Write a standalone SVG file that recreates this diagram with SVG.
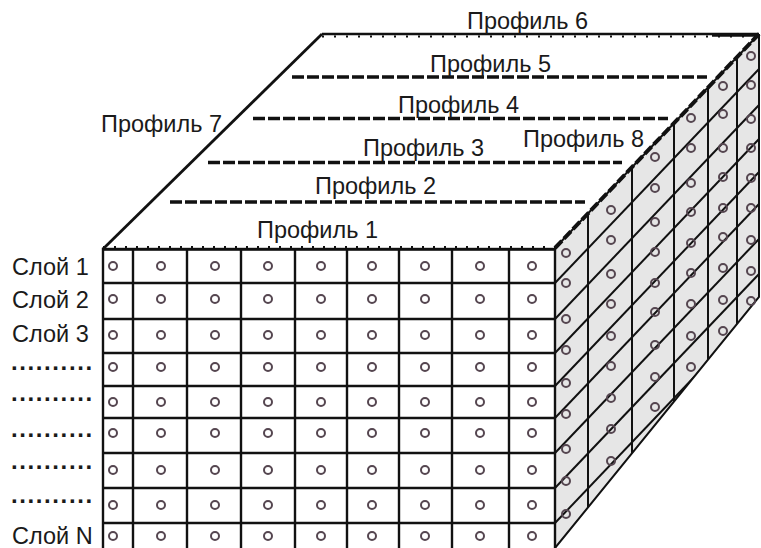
<svg xmlns="http://www.w3.org/2000/svg" xmlns:xlink="http://www.w3.org/1999/xlink" width="761" height="548" viewBox="0 0 761 548">
<style>
.t{font-family:"Liberation Sans",Arial,sans-serif;font-size:23.5px;fill:#1a1a1a}
.d{font-family:"Liberation Sans",Arial,sans-serif;font-size:24px;font-weight:bold;fill:#1a1a1a;letter-spacing:1.6px}
.g{stroke:#111;stroke-width:2.4;fill:none}
.gs{stroke:#111;stroke-width:2;fill:none}
.o{fill:none;stroke:#554650;stroke-width:2}
.pd{stroke:#111;stroke-width:3.6;stroke-dasharray:12 3;fill:none}
</style>
<defs>
<circle id="o" class="o" r="4"/>
<g id="frow">
<use href="#o" x="113"/><use href="#o" x="161"/><use href="#o" x="215"/><use href="#o" x="268"/><use href="#o" x="321"/><use href="#o" x="372"/><use href="#o" x="425"/><use href="#o" x="480"/><use href="#o" x="532"/>
</g>
<clipPath id="sideclip"><polygon points="555,248 759,34 759,297 555,548"/></clipPath>
</defs>
<rect width="761" height="548" fill="#fff"/>

<g id="side-face">
<polygon points="555,248 759,34 759,297 555,548" fill="#e6e6e6"/>
<g clip-path="url(#sideclip)" class="gs">
<line x1="555" y1="283" x2="759" y2="69"/>
<line x1="555" y1="319" x2="759" y2="105"/>
<line x1="555" y1="353" x2="759" y2="139"/>
<line x1="555" y1="386" x2="759" y2="172"/>
<line x1="555" y1="418" x2="759" y2="204"/>
<line x1="555" y1="453" x2="759" y2="239"/>
<line x1="555" y1="488" x2="759" y2="274"/>
<line x1="555" y1="523" x2="759" y2="309"/>
<line x1="588" y1="0" x2="588" y2="548"/>
<line x1="632" y1="0" x2="632" y2="548"/>
<line x1="674" y1="0" x2="674" y2="548"/>
<line x1="708" y1="0" x2="708" y2="548"/>
<line x1="737" y1="0" x2="737" y2="548"/>
</g>
<polyline class="gs" points="759,34 759,297 555,548"/>
<g>
<use href="#o" x="566" y="253"/><use href="#o" x="566" y="283"/><use href="#o" x="566" y="319"/><use href="#o" x="566" y="350"/><use href="#o" x="566" y="383"/><use href="#o" x="566" y="414"/><use href="#o" x="566" y="449"/><use href="#o" x="566" y="481"/><use href="#o" x="566" y="514"/>
<use href="#o" x="611" y="210"/><use href="#o" x="611" y="240"/><use href="#o" x="611" y="274"/><use href="#o" x="611" y="304"/><use href="#o" x="611" y="336"/><use href="#o" x="611" y="366"/><use href="#o" x="611" y="398"/><use href="#o" x="611" y="429"/><use href="#o" x="611" y="461"/>
<use href="#o" x="655" y="157"/><use href="#o" x="655" y="188"/><use href="#o" x="655" y="222"/><use href="#o" x="655" y="252"/><use href="#o" x="655" y="283"/><use href="#o" x="655" y="312"/><use href="#o" x="655" y="345"/><use href="#o" x="655" y="377"/><use href="#o" x="655" y="407"/>
<use href="#o" x="691" y="118"/><use href="#o" x="691" y="148"/><use href="#o" x="691" y="183"/><use href="#o" x="691" y="212"/><use href="#o" x="691" y="243"/><use href="#o" x="691" y="273"/><use href="#o" x="691" y="304"/><use href="#o" x="691" y="336"/><use href="#o" x="691" y="367"/>
<use href="#o" x="723" y="86"/><use href="#o" x="723" y="114"/><use href="#o" x="723" y="148"/><use href="#o" x="723" y="177"/><use href="#o" x="723" y="208"/><use href="#o" x="723" y="237"/><use href="#o" x="723" y="268"/><use href="#o" x="723" y="300"/><use href="#o" x="723" y="331"/>
<use href="#o" x="751" y="56"/><use href="#o" x="751" y="85"/><use href="#o" x="751" y="119"/><use href="#o" x="751" y="148"/><use href="#o" x="751" y="178"/><use href="#o" x="751" y="208"/><use href="#o" x="751" y="240"/><use href="#o" x="751" y="271"/><use href="#o" x="751" y="301"/>
</g>
</g>

<g id="front-face">
<rect x="103" y="249" width="452" height="305" class="g"/>
<g class="g">
<line x1="133" y1="249" x2="133" y2="548"/>
<line x1="187" y1="249" x2="187" y2="548"/>
<line x1="241" y1="249" x2="241" y2="548"/>
<line x1="295" y1="249" x2="295" y2="548"/>
<line x1="347" y1="249" x2="347" y2="548"/>
<line x1="399" y1="249" x2="399" y2="548"/>
<line x1="452" y1="249" x2="452" y2="548"/>
<line x1="509" y1="249" x2="509" y2="548"/>
<line x1="103" y1="283" x2="555" y2="283"/>
<line x1="103" y1="319" x2="555" y2="319"/>
<line x1="103" y1="353" x2="555" y2="353"/>
<line x1="103" y1="386" x2="555" y2="386"/>
<line x1="103" y1="418" x2="555" y2="418"/>
<line x1="103" y1="453" x2="555" y2="453"/>
<line x1="103" y1="488" x2="555" y2="488"/>
<line x1="103" y1="523" x2="555" y2="523"/>
</g>
<use href="#frow" y="266"/><use href="#frow" y="299"/><use href="#frow" y="335"/><use href="#frow" y="367"/><use href="#frow" y="402"/><use href="#frow" y="433"/><use href="#frow" y="470"/><use href="#frow" y="505"/><use href="#frow" y="536"/>
</g>

<g id="profiles">
<g id="profile-1"><line x1="103" y1="249.5" x2="555" y2="249.5" stroke="#111" stroke-width="2.6"/><line x1="103" y1="247" x2="555" y2="247" stroke="#111" stroke-width="2" stroke-dasharray="2 9"/></g>
<g id="profile-6"><line x1="322" y1="34" x2="759" y2="34" stroke="#111" stroke-width="2.6"/><line x1="322" y1="36.5" x2="759" y2="36.5" stroke="#111" stroke-width="2" stroke-dasharray="2 10"/><line x1="712" y1="35" x2="755" y2="35" stroke="#111" stroke-width="3.6"/></g>
<line id="profile-7" x1="103" y1="249" x2="322" y2="34" stroke="#111" stroke-width="2.8"/>
<g id="profile-8"><line x1="555" y1="248" x2="759" y2="34" stroke="#111" stroke-width="2"/><line x1="555" y1="248" x2="759" y2="34" stroke="#111" stroke-width="4" stroke-dasharray="10 3"/></g>
<line id="profile-5" class="pd" x1="292" y1="77" x2="707" y2="77"/>
<line id="profile-4" class="pd" x1="253" y1="118.5" x2="668" y2="118.5"/>
<line id="profile-3" class="pd" x1="208" y1="162.5" x2="622" y2="162.5"/>
<line id="profile-2" class="pd" x1="170" y1="202" x2="585" y2="202"/>
</g>

<g id="labels">
<text class="t" x="467" y="29">Профиль 6</text>
<text class="t" x="430" y="72">Профиль 5</text>
<text class="t" x="398" y="113">Профиль 4</text>
<text class="t" x="363" y="156">Профиль 3</text>
<text class="t" x="315" y="194">Профиль 2</text>
<text class="t" x="257" y="238">Профиль 1</text>
<text class="t" x="101" y="132">Профиль 7</text>
<text class="t" x="523" y="147">Профиль 8</text>
<text class="t" x="12" y="275">Слой 1</text>
<text class="t" x="12" y="308">Слой 2</text>
<text class="t" x="12" y="342">Слой 3</text>
<text class="d" x="11" y="370">..........</text>
<text class="d" x="11" y="401">..........</text>
<text class="d" x="11" y="437">..........</text>
<text class="d" x="11" y="469">..........</text>
<text class="d" x="11" y="503">..........</text>
<text class="t" x="12" y="544">Слой N</text>
</g>
</svg>
